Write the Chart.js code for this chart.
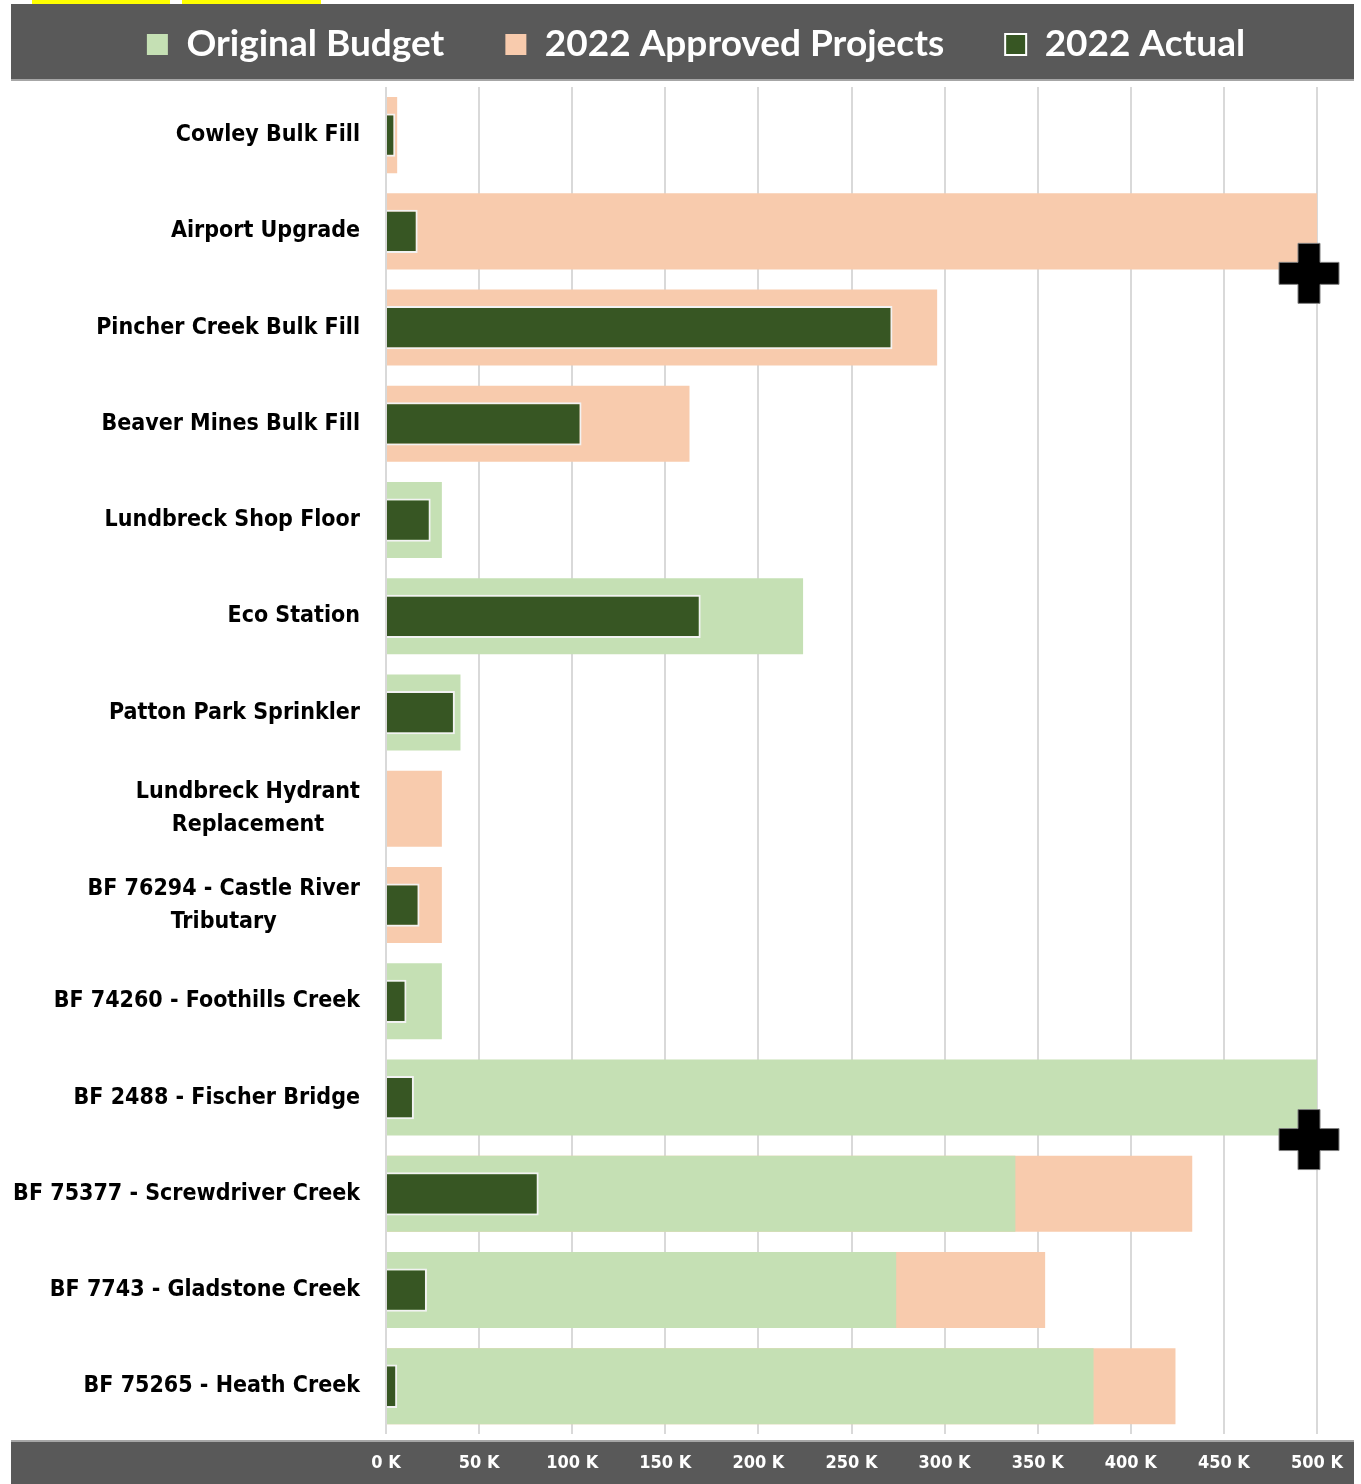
<!DOCTYPE html>
<html>
<head>
<meta charset="utf-8">
<script src="https://cdn.jsdelivr.net/npm/chart.js@4.4.0/dist/chart.umd.min.js"></script>
<style>
  body { margin: 0; background: #fff; }
  #wrap { position: relative; width: 1361px; height: 1484px; }
</style>
</head>
<body>
<div id="wrap"><canvas id="myChart"></canvas></div>
<script>
// data (values in dollars)
const categories = [
  "Cowley Bulk Fill",
  "Airport Upgrade",
  "Pincher Creek Bulk Fill",
  "Beaver Mines Bulk Fill",
  "Lundbreck Shop Floor",
  "Eco Station",
  "Patton Park Sprinkler",
  ["Lundbreck Hydrant", "Replacement"],
  ["BF 76294 - Castle River", "Tributary"],
  "BF 74260 - Foothills Creek",
  "BF 2488 - Fischer Bridge",
  "BF 75377 - Screwdriver Creek",
  "BF 7743 - Gladstone Creek",
  "BF 75265 - Heath Creek",
];
const originalBudget = [null, null, null, null, 30000, 224000, 40000, null, null, 30000, 500000, 338000, 274000, 380000];
const approvedProjects = [6000, 500000, 296000, 163000, null, null, null, 30000, 30000, null, null, 433000, 354000, 424000];
const actual2022 = [5000, 17000, 272000, 105000, 24000, 169000, 37000, null, 18000, 11000, 15000, 82000, 22000, 6000];
const axisMax = 500000;
const axisStep = 50000;

// dark bands behind legend and x tick labels
const bands = {
  id: "bands",
  beforeDraw(chart) {
    const ctx = chart.ctx;
    ctx.save();
    ctx.fillStyle = "#ffff00";
    ctx.fillRect(32, 0, 138, 4);
    ctx.fillRect(182, 0, 139, 4);
    ctx.fillStyle = "#595959";
    ctx.fillRect(11, 4, 1343, 76);
    ctx.fillRect(11, 1441, 1343, 43);
    ctx.fillStyle = "#a6a6a6";
    ctx.fillRect(11, 79, 1343, 2);
    ctx.fillRect(11, 1440, 1343, 2);
    ctx.restore();
  },
};

// category labels: right aligned block, lines centred inside it
const catLabels = {
  id: "catLabels",
  afterDraw(chart) {
    const ctx = chart.ctx;
    const y = chart.scales.y;
    ctx.save();
    ctx.font = "bold 23px 'DejaVu Sans Condensed', 'DejaVu Sans'";
    ctx.fillStyle = "#000";
    ctx.textBaseline = "middle";
    ctx.textAlign = "center";
    categories.forEach((lab, i) => {
      const lines = Array.isArray(lab) ? lab : [lab];
      const w = Math.max(...lines.map(l => ctx.measureText(l).width));
      const cx = 360 - w / 2;
      const cy = y.getPixelForValue(i);
      const lh = 33;
      lines.forEach((l, k) => {
        ctx.fillText(l, cx, cy + (k - (lines.length - 1) / 2) * lh);
      });
    });
    ctx.restore();
  },
};

// plus sign where a bar runs past the axis max
const overflow = {
  id: "overflow",
  afterDatasetsDraw(chart) {
    const ctx = chart.ctx;
    ctx.save();
    [0, 1].forEach(di => {
      const meta = chart.getDatasetMeta(di);
      chart.data.datasets[di].data.forEach((v, i) => {
        if (v == null || v < axisMax) return;
        const bar = meta.data[i];
        const cx = bar.x - 8, cy = bar.y + 42;
        const a = 30, t = 11;
        ctx.beginPath();
        ctx.moveTo(cx - t, cy - a);
        ctx.lineTo(cx + t, cy - a);
        ctx.lineTo(cx + t, cy - t);
        ctx.lineTo(cx + a, cy - t);
        ctx.lineTo(cx + a, cy + t);
        ctx.lineTo(cx + t, cy + t);
        ctx.lineTo(cx + t, cy + a);
        ctx.lineTo(cx - t, cy + a);
        ctx.lineTo(cx - t, cy + t);
        ctx.lineTo(cx - a, cy + t);
        ctx.lineTo(cx - a, cy - t);
        ctx.lineTo(cx - t, cy - t);
        ctx.closePath();
        ctx.fillStyle = "#000";
        ctx.fill();
        ctx.strokeStyle = "#7f7f7f";
        ctx.lineWidth = 1;
        ctx.stroke();
      });
    });
    ctx.restore();
  },
};

new Chart(document.getElementById("myChart").getContext("2d"), {
  type: "bar",
  data: {
    labels: categories,
    datasets: [
      {
        label: "Original Budget",
        data: originalBudget,
        backgroundColor: "#c5e0b4",
        borderWidth: 0,
        barPercentage: 0.79,
        categoryPercentage: 1,
        grouped: false,
        order: 2,
      },
      {
        label: "2022 Approved Projects",
        data: approvedProjects,
        backgroundColor: "#f8cbad",
        borderWidth: 0,
        barPercentage: 0.79,
        categoryPercentage: 1,
        grouped: false,
        order: 3,
      },
      {
        label: "2022 Actual",
        data: actual2022,
        backgroundColor: "#375623",
        borderColor: "#f2f2f2",
        borderWidth: 2,
        barPercentage: 0.45,
        categoryPercentage: 1,
        grouped: false,
        order: 1,
      },
    ],
  },
  options: {
    indexAxis: "y",
    responsive: true,
    maintainAspectRatio: false,
    animation: false,
    layout: { padding: { left: 75, right: 44, top: 2, bottom: -8 } },
    scales: {
      x: {
        min: 0,
        max: axisMax,
        border: { display: false },
        grid: { color: "#d9d9d9", lineWidth: 2, drawTicks: false },
        ticks: {
          stepSize: axisStep,
          padding: 18,
          maxRotation: 0,
          color: "#ffffff",
          font: { family: "'Liberation Sans Narrow', 'DejaVu Sans Condensed', Arial", size: 18, weight: "bold" },
          callback: v => v / 1000 + " K",
        },
      },
      // empty strip between legend band and plot
      gap: {
        type: "linear",
        axis: "x",
        position: "top",
        ticks: { display: false },
        grid: { display: false },
        border: { display: false },
        afterFit: s => { s.height = 14; },
      },
      y: {
        ticks: { display: false },
        grid: { display: false },
        border: { display: false },
        afterFit: s => { s.width = 311; },
      },
    },
    plugins: {
      tooltip: { enabled: false },
      legend: {
        position: "top",
        labels: {
          color: "#ffffff",
          font: { family: "Lato", size: 37, weight: "bold" },
          boxWidth: 21,
          boxHeight: 21,
          padding: 24,
          sort: (a, b) => a.datasetIndex - b.datasetIndex,
          generateLabels: chart => {
            const items = Chart.defaults.plugins.legend.labels.generateLabels(chart);
            items.forEach(it => {
              if (it.datasetIndex < 2) it.text += "\u2003\u2005";
              it.lineWidth = it.datasetIndex === 2 ? 2 : 0;
              it.strokeStyle = "#ffffff";
            });
            return items;
          },
        },
      },
    },
  },
  plugins: [bands, catLabels, overflow],
});
</script>
</body>
</html>
